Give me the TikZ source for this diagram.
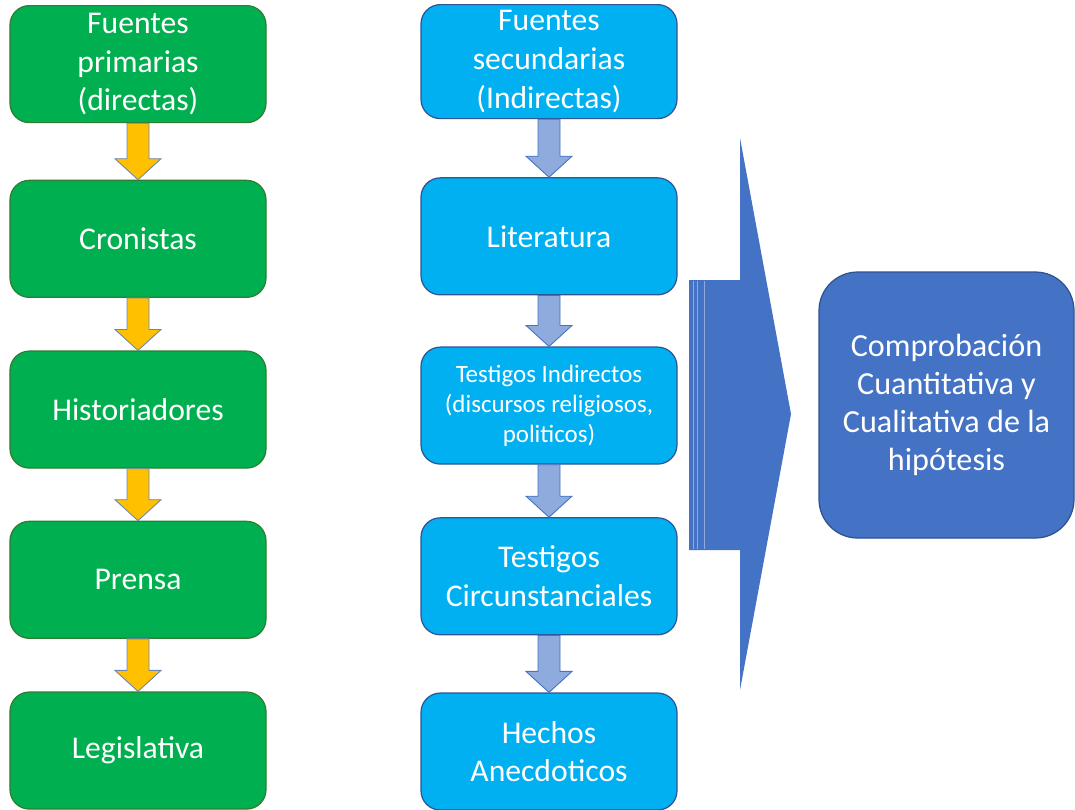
\documentclass[tikz,border=0pt]{standalone}
\usepackage{fontspec}
\setmainfont{Carlito}
\usepackage{xcolor}
\usetikzlibrary{positioning,calc}
\definecolor{fillgreen}{HTML}{00B050}
\definecolor{linegreen}{HTML}{2E7D32}
\definecolor{fillcyan}{HTML}{00B0F0}
\definecolor{linecyan}{HTML}{2F5597}
\definecolor{fillgold}{HTML}{FFC000}
\definecolor{fillperi}{HTML}{8FAADC}
\definecolor{fillroyal}{HTML}{4472C4}
\definecolor{lineroyal}{HTML}{2F528F}
\tikzset{
	basic/.style = {draw, rectangle, rounded corners=11pt, line width=0.7pt, text=white, align=center,
		minimum width=5.12cm, minimum height=2.34cm, inner ysep=0pt,
		font=\fontsize{18}{22}\selectfont},
	primary/.style = {basic, fill=fillgreen, draw=linegreen},
	secondary/.style = {basic, fill=fillcyan, draw=linecyan},
	small/.style = {font=\fontsize{14.2}{17}\selectfont},
	result/.style = {basic, fill=fillroyal, draw=lineroyal, rounded corners=22pt,
		minimum width=5.1cm, minimum height=5.32cm},
	goldarrow/.style = {fill=fillgold, draw=lineroyal!70, line width=0.5pt},
	periarrow/.style = {fill=fillperi, draw=fillroyal, line width=0.5pt}
}
% block arrow pointing down from one box to the next
\newcommand{\downblock}[3]{%
	\filldraw[#1] let \p1=(#2.south), \p2=(#3.north) in
	(\x1-0.22cm,\y1) -- (\x1+0.22cm,\y1) -- (\x1+0.22cm,\y2+0.42cm) -- (\x1+0.46cm,\y2+0.42cm)
	-- (\x1,\y2) -- (\x1-0.46cm,\y2+0.42cm) -- (\x1-0.22cm,\y2+0.42cm) -- cycle;}

\begin{document}
\begin{tikzpicture}
	\useasboundingbox (0,0) rectangle (21.5,-16.18);
	% primary sources
	\node[primary, anchor=north] (p1) at (2.76,-0.1) {Fuentes\\primarias\\(directas)};
	\node[primary, below=1.13cm of p1] (p2) {Cronistas};
	\node[primary, below=1.05cm of p2] (p3) {Historiadores};
	\node[primary, below=1.04cm of p3] (p4) {Prensa};
	\node[primary, below=1.05cm of p4] (p5) {Legislativa};
	% secondary sources
	\node[secondary, anchor=north, minimum height=2.28cm] (s1) at (10.98,-0.08) {Fuentes\\secundarias\\(Indirectas)};
	\node[secondary, below=1.16cm of s1] (s2) {Literatura};
	\node[secondary, small, below=1.02cm of s2] (s3) {Testigos Indirectos\\(discursos religiosos,\\politicos)};
	\node[secondary, below=1.05cm of s3] (s4) {Testigos\\Circunstanciales};
	\node[secondary, below=1.14cm of s4] (s5) {Hechos\\Anecdoticos};
	% result
	\node[result, font=\fontsize{18.3}{21.5}\selectfont] (r) at (18.93,-8.1) {Comprobación\\Cuantitativa y\\Cualitativa de la\\hipótesis};

	\downblock{goldarrow}{p1}{p2}
	\downblock{goldarrow}{p2}{p3}
	\downblock{goldarrow}{p3}{p4}
	\downblock{goldarrow}{p4}{p5}
	\downblock{periarrow}{s1}{s2}
	\downblock{periarrow}{s2}{s3}
	\downblock{periarrow}{s3}{s4}
	\downblock{periarrow}{s4}{s5}

	% big striped arrow
	\fill[fillroyal] (13.78,-5.6) -- (14.8,-5.6) -- (14.8,-2.76) -- (15.82,-8.28)
		-- (14.8,-13.8) -- (14.8,-11.0) -- (13.78,-11.0) -- cycle;
	\foreach \sx in {13.87,13.95,14.09}
		\draw[fillperi, line width=0.7pt] (\sx,-5.62) -- (\sx,-10.98);
\end{tikzpicture}
\end{document}
